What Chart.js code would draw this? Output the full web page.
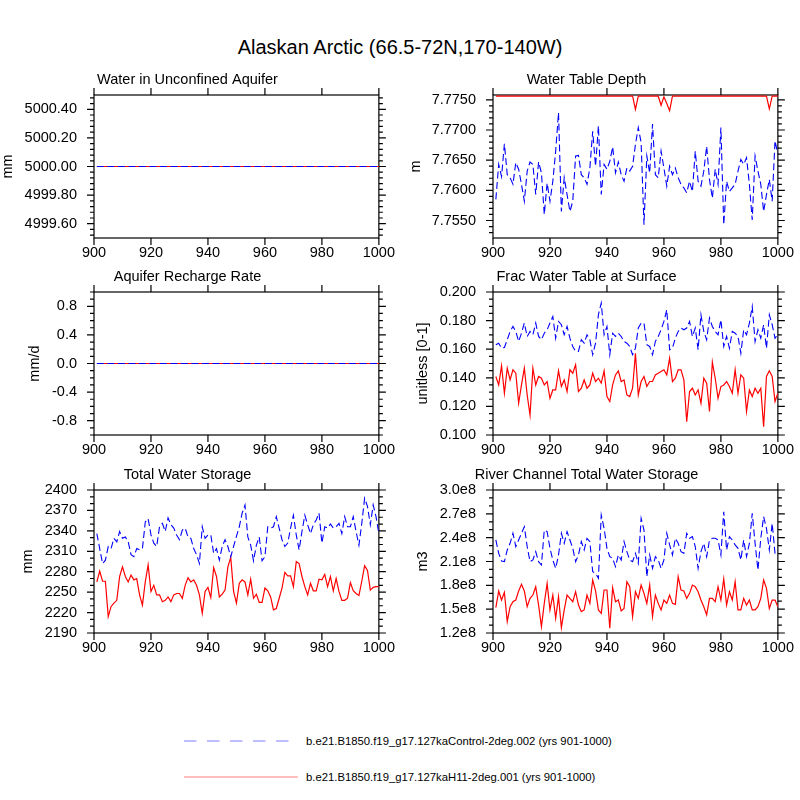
<!DOCTYPE html>
<html>
<head>
<meta charset="utf-8">
<script src="https://cdn.jsdelivr.net/npm/chart.js@4.4.1/dist/chart.umd.min.js"></script>
<style>
  body { margin: 0; width: 800px; height: 800px; background: #fff; position: relative; overflow: hidden;
         font-family: "Liberation Sans", Arial, sans-serif; color: #000; }
  canvas { position: absolute; }
  #title { position: absolute; left: 0; width: 800px; top: 35px; line-height: 24px; text-align: center; font-size: 20px; }
  .lt { position: absolute; left: 306px; font-size: 11.3px; line-height: 14px; white-space: nowrap; }
</style>
</head>
<body>
<div id="title">Alaskan Arctic (66.5-72N,170-140W)</div>
<svg width="800" height="800" style="position:absolute;left:0;top:0">
  <line x1="184" y1="741" x2="292" y2="741" stroke="#aaaaff" stroke-width="1.6" stroke-dasharray="12.5 10.5"/>
  <line x1="184" y1="777" x2="298" y2="777" stroke="#ffaaaa" stroke-width="1.6"/>
</svg>
<div class="lt" style="top:734px">b.e21.B1850.f19_g17.127kaControl-2deg.002 (yrs 901-1000)</div>
<div class="lt" style="top:770px">b.e21.B1850.f19_g17.127kaH11-2deg.001 (yrs 901-1000)</div>
<script>
// years 901-1000
const years = [
  901,902,903,904,905,906,907,908,909,910, 911,912,913,914,915,916,917,918,919,920,
  921,922,923,924,925,926,927,928,929,930, 931,932,933,934,935,936,937,938,939,940,
  941,942,943,944,945,946,947,948,949,950, 951,952,953,954,955,956,957,958,959,960,
  961,962,963,964,965,966,967,968,969,970, 971,972,973,974,975,976,977,978,979,980,
  981,982,983,984,985,986,987,988,989,990, 991,992,993,994,995,996,997,998,999,1000
];
const xTicks = [900, 920, 940, 960, 980, 1000];

// Water in Unconfined Aquifer (mm)
const aquiferCtl = [
  5000,5000,5000,5000,5000,5000,5000,5000,5000,5000,5000,5000,5000,5000,5000,5000,5000,5000,5000,5000,
  5000,5000,5000,5000,5000,5000,5000,5000,5000,5000,5000,5000,5000,5000,5000,5000,5000,5000,5000,5000,
  5000,5000,5000,5000,5000,5000,5000,5000,5000,5000,5000,5000,5000,5000,5000,5000,5000,5000,5000,5000,
  5000,5000,5000,5000,5000,5000,5000,5000,5000,5000,5000,5000,5000,5000,5000,5000,5000,5000,5000,5000,
  5000,5000,5000,5000,5000,5000,5000,5000,5000,5000,5000,5000,5000,5000,5000,5000,5000,5000,5000,5000
];
const aquiferH11 = [
  5000,5000,5000,5000,5000,5000,5000,5000,5000,5000,5000,5000,5000,5000,5000,5000,5000,5000,5000,5000,
  5000,5000,5000,5000,5000,5000,5000,5000,5000,5000,5000,5000,5000,5000,5000,5000,5000,5000,5000,5000,
  5000,5000,5000,5000,5000,5000,5000,5000,5000,5000,5000,5000,5000,5000,5000,5000,5000,5000,5000,5000,
  5000,5000,5000,5000,5000,5000,5000,5000,5000,5000,5000,5000,5000,5000,5000,5000,5000,5000,5000,5000,
  5000,5000,5000,5000,5000,5000,5000,5000,5000,5000,5000,5000,5000,5000,5000,5000,5000,5000,5000,5000
];
const aquiferTicks = [4999.6, 4999.8, 5000.0, 5000.2, 5000.4];

// Water Table Depth (m)
const wtdCtl = [
  7.7585,7.7643,7.7623,7.7677,7.7626,7.7621,7.7610,7.7646,7.7635,7.7610,
  7.7582,7.7632,7.7647,7.7643,7.7593,7.7647,7.7629,7.7560,7.7612,7.7582,
  7.7615,7.7665,7.7729,7.7565,7.7621,7.7593,7.7565,7.7582,7.7657,7.7658,
  7.7626,7.7621,7.7610,7.7637,7.7698,7.7640,7.7707,7.7593,7.7643,7.7635,
  7.7648,7.7672,7.7629,7.7647,7.7626,7.7615,7.7637,7.7632,7.7640,7.7676,
  7.7704,7.7679,7.7543,7.7657,7.7629,7.7710,7.7626,7.7621,7.7665,7.7637,
  7.7607,7.7640,7.7626,7.7637,7.7621,7.7610,7.7604,7.7596,7.7615,7.7598,
  7.7665,7.7615,7.7607,7.7632,7.7673,7.7618,7.7587,7.7635,7.7610,7.7704,
  7.7543,7.7615,7.7598,7.7604,7.7610,7.7632,7.7651,7.7643,7.7654,7.7610,
  7.7551,7.7657,7.7632,7.7610,7.7565,7.7593,7.7618,7.7582,7.7682,7.7660
];
const wtdH11 = [
  7.7756,7.7756,7.7756,7.7756,7.7756,7.7756,7.7756,7.7756,7.7756,7.7756,
  7.7756,7.7756,7.7756,7.7756,7.7756,7.7756,7.7756,7.7756,7.7756,7.7756,
  7.7756,7.7756,7.7756,7.7756,7.7756,7.7756,7.7756,7.7756,7.7756,7.7756,
  7.7756,7.7756,7.7756,7.7756,7.7756,7.7756,7.7756,7.7756,7.7756,7.7756,
  7.7756,7.7756,7.7756,7.7756,7.7756,7.7756,7.7756,7.7756,7.7756,7.7734,
  7.7756,7.7756,7.7756,7.7756,7.7756,7.7756,7.7756,7.7756,7.7741,7.7755,
  7.7744,7.7732,7.7756,7.7756,7.7756,7.7756,7.7756,7.7756,7.7756,7.7756,
  7.7756,7.7756,7.7756,7.7756,7.7756,7.7756,7.7756,7.7756,7.7756,7.7756,
  7.7756,7.7756,7.7756,7.7756,7.7756,7.7756,7.7756,7.7756,7.7756,7.7756,
  7.7756,7.7756,7.7756,7.7756,7.7756,7.7756,7.7735,7.7756,7.7756,7.7756
];
const wtdTicks = [7.7550, 7.7600, 7.7650, 7.7700, 7.7750];

// Aquifer Recharge Rate (mm/d)
const rechargeCtl = [
  0,0,0,0,0,0,0,0,0,0,0,0,0,0,0,0,0,0,0,0, 0,0,0,0,0,0,0,0,0,0,0,0,0,0,0,0,0,0,0,0,
  0,0,0,0,0,0,0,0,0,0,0,0,0,0,0,0,0,0,0,0, 0,0,0,0,0,0,0,0,0,0,0,0,0,0,0,0,0,0,0,0,
  0,0,0,0,0,0,0,0,0,0,0,0,0,0,0,0,0,0,0,0
];
const rechargeH11 = [
  0,0,0,0,0,0,0,0,0,0,0,0,0,0,0,0,0,0,0,0, 0,0,0,0,0,0,0,0,0,0,0,0,0,0,0,0,0,0,0,0,
  0,0,0,0,0,0,0,0,0,0,0,0,0,0,0,0,0,0,0,0, 0,0,0,0,0,0,0,0,0,0,0,0,0,0,0,0,0,0,0,0,
  0,0,0,0,0,0,0,0,0,0,0,0,0,0,0,0,0,0,0,0
];
const rechargeTicks = [-0.8, -0.4, 0.0, 0.4, 0.8];

// Frac Water Table at Surface (unitless)
const fracCtl = [
  0.1631,0.1642,0.1607,0.1612,0.1666,0.1724,0.1759,0.1724,0.1654,0.1712,
  0.1783,0.1689,0.1724,0.1701,0.1783,0.1689,0.1666,0.1712,0.1736,0.1783,
  0.1829,0.1677,0.1794,0.1771,0.1701,0.1759,0.1677,0.1619,0.1584,0.1584,
  0.1666,0.1642,0.1701,0.1666,0.1561,0.1642,0.1841,0.1923,0.1701,0.1759,
  0.1561,0.1712,0.1689,0.1712,0.1689,0.1654,0.1642,0.1619,0.1561,0.1607,
  0.1748,0.1783,0.1783,0.1631,0.1619,0.1561,0.1654,0.1689,0.1736,0.1794,
  0.1876,0.1596,0.1607,0.1677,0.1724,0.1748,0.1736,0.1748,0.1794,0.1689,
  0.1748,0.1596,0.1841,0.1724,0.1666,0.1818,0.1759,0.1724,0.1701,0.1806,
  0.1619,0.1689,0.1607,0.1724,0.1712,0.1689,0.1572,0.1736,0.1701,0.1783,
  0.1899,0.1654,0.1736,0.1677,0.1771,0.1607,0.1841,0.1771,0.1677,0.1701
];
const fracH11 = [
  0.1409,0.1350,0.1484,0.1292,0.1467,0.1385,0.1456,0.1432,0.1222,0.1350,
  0.1467,0.1280,0.1140,0.1467,0.1350,0.1409,0.1397,0.1350,0.1374,0.1257,
  0.1315,0.1315,0.1449,0.1339,0.1385,0.1304,0.1456,0.1432,0.1491,0.1304,
  0.1327,0.1385,0.1327,0.1350,0.1432,0.1374,0.1397,0.1362,0.1449,0.1269,
  0.1234,0.1350,0.1420,0.1449,0.1374,0.1385,0.1280,0.1269,0.1327,0.1572,
  0.1280,0.1374,0.1409,0.1339,0.1374,0.1374,0.1420,0.1432,0.1444,0.1456,
  0.1420,0.1537,0.1374,0.1397,0.1456,0.1456,0.1385,0.1093,0.1304,0.1327,
  0.1280,0.1315,0.1222,0.1397,0.1362,0.1164,0.1509,0.1397,0.1257,0.1339,
  0.1350,0.1374,0.1339,0.1292,0.1456,0.1292,0.1420,0.1397,0.1164,0.1315,
  0.1269,0.1327,0.1292,0.1327,0.1058,0.1409,0.1449,0.1409,0.1234,0.1292
];
const fracTicks = [0.100, 0.120, 0.140, 0.160, 0.180, 0.200];

// Total Water Storage (mm)
const storageCtl = [
  2336,2314,2292,2297,2317,2314,2329,2324,2339,2329,
  2331,2324,2305,2302,2314,2312,2314,2353,2358,2334,
  2322,2317,2346,2351,2339,2359,2349,2344,2334,2327,
  2341,2344,2331,2329,2314,2305,2292,2346,2329,2334,
  2334,2307,2314,2297,2317,2327,2317,2302,2317,2332,
  2346,2366,2378,2331,2319,2296,2319,2331,2296,2302,
  2346,2344,2346,2361,2344,2327,2317,2322,2344,2363,
  2334,2312,2339,2363,2349,2336,2349,2356,2366,2322,
  2346,2344,2350,2344,2346,2351,2336,2361,2346,2346,
  2361,2339,2319,2351,2388,2376,2349,2378,2361,2336
];
const storageH11 = [
  2265,2281,2266,2266,2214,2229,2234,2238,2273,2287,
  2273,2265,2275,2268,2270,2246,2231,2265,2290,2251,
  2260,2246,2246,2236,2238,2243,2236,2246,2248,2248,
  2241,2260,2271,2265,2268,2260,2246,2219,2251,2257,
  2242,2286,2273,2243,2247,2253,2287,2301,2251,2234,
  2263,2268,2265,2246,2269,2241,2247,2235,2235,2256,
  2252,2243,2224,2226,2241,2256,2279,2274,2274,2258,
  2295,2292,2273,2258,2246,2263,2252,2252,2269,2268,
  2276,2258,2273,2252,2270,2251,2238,2238,2241,2264,
  2252,2248,2245,2266,2289,2282,2253,2257,2258,2258
];
const storageTicks = [2190, 2220, 2250, 2280, 2310, 2340, 2370, 2400];

// River Channel Total Water Storage (m3, in units of 1e8)
const riverCtl = [
  2.371,2.203,2.106,2.098,2.245,2.329,2.455,2.287,2.371,2.455,
  2.538,2.287,2.098,2.119,2.224,2.098,2.056,2.496,2.476,2.266,
  2.119,2.014,2.182,2.455,2.329,2.476,2.371,2.266,2.098,2.182,
  2.350,2.245,2.392,2.350,1.972,1.951,1.888,2.685,2.517,2.266,
  2.161,2.140,2.035,2.182,2.119,2.350,2.224,2.119,2.098,2.203,
  2.077,2.643,2.496,1.909,2.182,2.014,2.161,2.119,2.014,2.119,
  2.455,2.308,2.182,2.392,2.329,2.224,2.203,2.455,2.392,2.413,
  2.287,2.014,2.224,2.329,2.161,2.371,2.392,2.392,2.371,2.182,
  2.727,2.245,2.413,2.371,2.308,2.266,2.119,2.371,2.161,2.329,
  2.706,2.329,1.993,2.392,2.664,2.517,2.245,2.580,2.203,2.203
];
const riverH11 = [
  1.519,1.729,1.615,1.712,1.343,1.531,1.594,1.615,1.729,1.813,
  1.729,1.531,1.636,1.678,1.783,1.552,1.280,1.573,1.825,1.490,
  1.678,1.385,1.657,1.267,1.490,1.678,1.636,1.594,1.720,1.552,
  1.469,1.490,1.678,1.573,1.867,1.729,1.490,1.448,1.741,1.741,
  1.259,1.771,1.594,1.615,1.477,1.510,1.846,1.783,1.406,1.720,
  1.636,1.804,1.699,1.573,1.804,1.406,1.678,1.573,1.490,1.615,
  1.573,1.678,1.573,1.561,1.909,1.741,1.729,1.636,1.699,1.804,
  1.783,1.720,1.615,1.531,1.427,1.636,1.636,1.594,1.783,1.615,
  1.880,1.552,1.720,1.615,1.846,1.490,1.490,1.636,1.552,1.615,
  1.490,1.490,1.531,1.636,1.867,1.762,1.510,1.615,1.615,1.531
];
const riverTicks = [1.2, 1.5, 1.8, 2.1, 2.4, 2.7, 3.0];

const FONT = '"Liberation Sans", Arial, sans-serif';
const PLOT_W = 287, PLOT_H = 143;
Chart.defaults.color = '#000';
Chart.defaults.font.family = FONT;

const panels = [
  { title: 'Water in Unconfined Aquifer', yTitle: 'mm', left: 94, top: 95, ctl: aquiferCtl, h11: aquiferH11,
    yMin: 4999.5, yMax: 5000.5, yTicks: aquiferTicks, minor: 0.04, fmt: v => v.toFixed(2), titlePad: 5.3 },
  { title: 'Water Table Depth', yTitle: 'm', left: 493, top: 95, ctl: wtdCtl, h11: wtdH11,
    yMin: 7.7521, yMax: 7.7758, yTicks: wtdTicks, minor: 0.001, fmt: v => v.toFixed(4), titlePad: 14.3 },
  { title: 'Aquifer Recharge Rate', yTitle: 'mm/d', left: 94, top: 292, ctl: rechargeCtl, h11: rechargeH11,
    yMin: -1, yMax: 1, yTicks: rechargeTicks, minor: 0.1, fmt: v => v.toFixed(1), titlePad: 32 },
  { title: 'Frac Water Table at Surface', yTitle: 'unitless [0-1]', left: 493, top: 292, ctl: fracCtl, h11: fracH11,
    yMin: 0.1, yMax: 0.2, yTicks: fracTicks, minor: 0.005, fmt: v => v.toFixed(3), titlePad: 21.3 },
  { title: 'Total Water Storage', yTitle: 'mm', left: 94, top: 490, ctl: storageCtl, h11: storageH11,
    yMin: 2190, yMax: 2400, yTicks: storageTicks, minor: 10, fmt: v => String(Math.round(v)), titlePad: 25.3 },
  { title: 'River Channel Total Water Storage', yTitle: 'm3', left: 493, top: 490, ctl: riverCtl, h11: riverH11,
    yMin: 1.2, yMax: 3.0, yTicks: riverTicks, minor: 0.1, fmt: v => v.toFixed(1) + 'e8', titlePad: 21.3 }
];

// NCL style frame: box plus outward ticks on all four sides, minor ticks on y
function framePlugin(minorStep) {
  return {
    id: 'nclFrame',
    beforeDatasetsDraw(chart) {
      const { ctx, chartArea: a, scales: { x, y } } = chart;
      ctx.save();
      ctx.strokeStyle = '#000';
      ctx.lineWidth = 1.2;
      ctx.strokeRect(a.left, a.top, a.right - a.left, a.bottom - a.top);
      ctx.beginPath();
      x.ticks.forEach(t => {
        const px = x.getPixelForValue(t.value);
        ctx.moveTo(px, a.bottom); ctx.lineTo(px, a.bottom + 7);
        ctx.moveTo(px, a.top); ctx.lineTo(px, a.top - 7);
      });
      y.ticks.forEach(t => {
        const py = y.getPixelForValue(t.value);
        ctx.moveTo(a.left - 7, py); ctx.lineTo(a.left, py);
        ctx.moveTo(a.right, py); ctx.lineTo(a.right + 7, py);
      });
      const lo = Math.ceil(y.min / minorStep - 1e-6), hi = Math.floor(y.max / minorStep + 1e-6);
      for (let n = lo; n <= hi; n++) {
        const v = n * minorStep;
        if (y.ticks.some(t => Math.abs(t.value - v) < minorStep * 0.01)) continue;
        const py = y.getPixelForValue(v);
        ctx.moveTo(a.left - 4, py); ctx.lineTo(a.left, py);
        ctx.moveTo(a.right, py); ctx.lineTo(a.right + 4, py);
      }
      ctx.stroke();
      ctx.restore();
    }
  };
}

function makePanel(p) {
  const cv = document.createElement('canvas');
  cv.width = 100 + PLOT_W + 20;
  cv.height = 30 + PLOT_H + 34;
  cv.style.left = (p.left - 100) + 'px';
  cv.style.top = (p.top - 30) + 'px';
  document.body.appendChild(cv);

  const points = arr => years.map((yr, i) => ({ x: yr, y: arr[i] }));
  const tickFont = { family: FONT, size: 14.5 };

  new Chart(cv.getContext('2d'), {
    type: 'line',
    data: {
      datasets: [
        { label: 'Control', data: points(p.ctl), borderColor: '#0000ff', borderWidth: 1.1,
          borderDash: [7, 3.5], pointRadius: 0, tension: 0 },
        { label: 'H11', data: points(p.h11), borderColor: '#ff0000', borderWidth: 1.2,
          pointRadius: 0, tension: 0 }
      ]
    },
    options: {
      responsive: false,
      animation: false,
      events: [],
      layout: { padding: { left: 0, top: 0, right: 20, bottom: 0 } },
      plugins: {
        legend: { display: false },
        tooltip: { enabled: false },
        title: { display: true, text: p.title, color: '#000',
                 font: { family: FONT, size: 14.5, weight: 'normal' }, padding: { top: 6, bottom: 6.6 } }
      },
      scales: {
        x: {
          type: 'linear', min: 900, max: 1000,
          grid: { display: false, drawTicks: false }, border: { display: false },
          afterFit: s => { s.height = 34; },
          afterBuildTicks: s => { s.ticks = xTicks.map(v => ({ value: v })); },
          ticks: { padding: 6, font: tickFont, maxRotation: 0, autoSkip: false, callback: v => String(v) }
        },
        y: {
          type: 'linear', min: p.yMin, max: p.yMax,
          grid: { display: false, drawTicks: false }, border: { display: false },
          afterFit: s => { s.width = 100; },
          afterBuildTicks: s => { s.ticks = p.yTicks.map(v => ({ value: v })); },
          ticks: { padding: 17, font: tickFont, autoSkip: false, callback: v => p.fmt(v) },
          title: { display: true, text: p.yTitle, font: { family: FONT, size: 14.5 },
                   padding: { top: p.titlePad, bottom: 0 } }
        }
      }
    },
    plugins: [framePlugin(p.minor)]
  });
}

panels.forEach(makePanel);
</script>
</body>
</html>
